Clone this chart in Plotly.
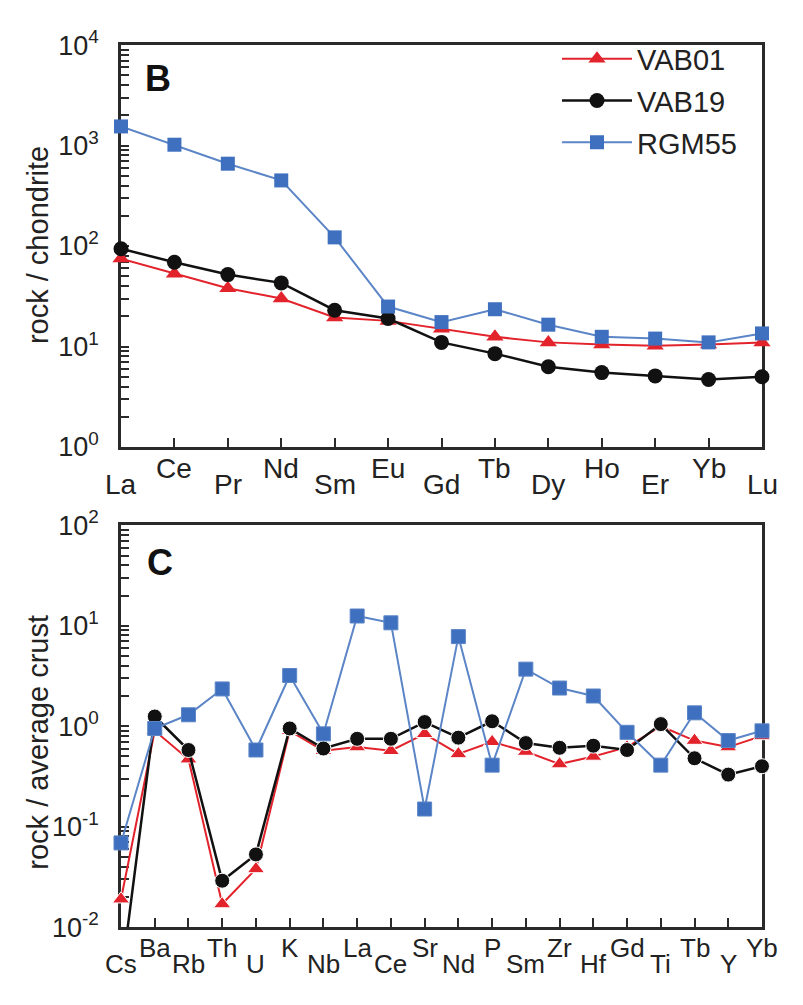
import plotly.graph_objects as go

# ---------------- data ----------------
ree = ["La", "Ce", "Pr", "Nd", "Sm", "Eu", "Gd", "Tb", "Dy", "Ho", "Er", "Yb", "Lu"]
ree_vab01 = [75, 53, 38, 30, 19.5, 18, 15, 12.5, 11, 10.5, 10.2, 10.5, 11]
ree_vab19 = [94, 69, 52, 43, 23, 19, 11, 8.5, 6.3, 5.5, 5.1, 4.7, 5.0]
ree_rgm55 = [1550, 1020, 660, 450, 122, 25, 17.5, 23.5, 16.5, 12.5, 12, 11, 13.5]

spider = ["Cs", "Ba", "Rb", "Th", "U", "K", "Nb", "La", "Ce", "Sr",
          "Nd", "P", "Sm", "Zr", "Hf", "Gd", "Ti", "Tb", "Y", "Yb"]
sp_vab01 = [0.019, 0.9, 0.47, 0.017, 0.038, 0.9, 0.57, 0.62, 0.57, 0.84,
            0.53, 0.7, 0.56, 0.42, 0.5, 0.62, 1.0, 0.72, 0.62, 0.8]
sp_vab19 = [0.003, 1.25, 0.58, 0.029, 0.053, 0.95, 0.6, 0.75, 0.75, 1.1,
            0.77, 1.12, 0.68, 0.61, 0.64, 0.58, 1.05, 0.48, 0.33, 0.4]
sp_rgm55 = [0.069, 0.95, 1.3, 2.35, 0.58, 3.2, 0.84, 12.5, 10.7, 0.15,
            7.8, 0.41, 3.7, 2.4, 2.0, 0.87, 0.41, 1.36, 0.72, 0.9]

names = ["VAB01", "VAB19", "RGM55"]

# ---------------- styles ----------------
FONT = "Arial, Liberation Sans, sans-serif"
RED = "#e3232c"
BLACK = "#111111"
BLUE_M = "#3f6fbf"
BLUE_L = "#5b85c6"
AX = "#2a2a2a"

styles = [
    dict(line=dict(color=RED, width=2), marker=dict(symbol="triangle-up", size=15, color=RED, opacity=1)),
    dict(line=dict(color=BLACK, width=2.5), marker=dict(symbol="circle", size=15, color=BLACK, opacity=1)),
    dict(line=dict(color=BLUE_L, width=2), marker=dict(symbol="square", size=14, color=BLUE_M, opacity=1)),
]

fig = go.Figure()

top_series = [ree_vab01, ree_vab19, ree_rgm55]
for nm, ys, st in zip(names, top_series, styles):
    fig.add_trace(go.Scatter(x=ree, y=ys, name=nm, mode="lines+markers",
                             line=st["line"], marker=st["marker"], cliponaxis=False,
                             legendgroup=nm, xaxis="x", yaxis="y"))

bot_series = [sp_vab01, sp_vab19, sp_rgm55]
for nm, ys, st in zip(names, bot_series, styles):
    mk = dict(st["marker"])
    # hide markers that fall outside the plotted range
    mk["size"] = [st["marker"]["size"] if v >= 0.01 else 0 for v in ys]
    mk["opacity"] = 1
    fig.add_trace(go.Scatter(x=spider, y=ys, name=nm, mode="lines+markers",
                             line=st["line"], marker=mk, cliponaxis=False,
                             showlegend=False, xaxis="x2", yaxis="y2"))

W, H = 803, 1005
def py(p):
    return 1 - p / H

xdom = [121 / W, 762 / W]

def yaxis(dom, lo, hi, anchor):
    vals, texts = [], []
    for d in range(lo, hi + 1):
        for m in range(1, 10):
            if d == hi and m > 1:
                break
            vals.append(m * 10 ** d)
            texts.append("10<sup>%d</sup>" % d if m == 1 else "")
    return dict(
        type="log", range=[lo, hi], domain=dom, anchor=anchor,
        tickmode="array", tickvals=vals, ticktext=texts,
        ticks="inside", ticklen=8, tickwidth=2.2, tickcolor=AX,
        showline=True, linewidth=2.5, linecolor=AX, mirror=True,
        showgrid=False, zeroline=False,
        tickfont=dict(family=FONT, size=27, color="#222"),
        ticklabelstandoff=14, layer="below traces",
    )

def xaxis(dom, cats, anchor):
    return dict(
        type="category", categoryorder="array", categoryarray=cats,
        range=[0, len(cats) - 1], domain=dom, anchor=anchor,
        ticks="inside", ticklen=9, tickwidth=2, tickcolor=AX,
        showticklabels=False,
        showline=True, linewidth=2.5, linecolor=AX, mirror=True,
        showgrid=False, zeroline=False, layer="below traces",
    )

fig.update_layout(
    width=W, height=H,
    margin=dict(l=0, r=0, t=0, b=0),
    paper_bgcolor="white", plot_bgcolor="white",
    font=dict(family=FONT, color="#222"),
    xaxis=xaxis(xdom, ree, "y"),
    yaxis=yaxis([py(443), py(27)], 0, 4, "x"),
    xaxis2=xaxis(xdom, spider, "y2"),
    yaxis2=yaxis([py(940), py(524)], -2, 2, "x2"),
    showlegend=True,
    legend=dict(x=557 / W, y=py(15), xanchor="left", yanchor="top",
                font=dict(family=FONT, size=29, color="#222"),
                itemwidth=70, traceorder="grouped", tracegroupgap=1,
                bgcolor="rgba(0,0,0,0)"),
)

ann = []
# staggered category labels
for i, lab in enumerate(ree):
    ann.append(dict(x=lab, y=py(465 if i % 2 else 482), xref="x", yref="paper",
                    text=lab, showarrow=False, xanchor="center", yanchor="middle",
                    font=dict(family=FONT, size=28, color="#222")))
for i, lab in enumerate(spider):
    ann.append(dict(x=lab, y=py(962 if i % 2 else 978), xref="x2", yref="paper",
                    text=lab, showarrow=False, xanchor="center", yanchor="middle",
                    font=dict(family=FONT, size=26, color="#222")))
# axis titles
ann.append(dict(x=38 / W, y=py(234), xref="paper", yref="paper", text="rock / chondrite",
                textangle=-90, showarrow=False, xanchor="center", yanchor="middle",
                font=dict(family=FONT, size=29, color="#222")))
ann.append(dict(x=38 / W, y=py(749), xref="paper", yref="paper", text="rock / average crust",
                textangle=-90, showarrow=False, xanchor="center", yanchor="middle",
                font=dict(family=FONT, size=29, color="#222")))
# panel letters
ann.append(dict(x=158 / W, y=py(62), xref="paper", yref="paper", text="<b>B</b>",
                showarrow=False, xanchor="center", yanchor="middle",
                font=dict(family=FONT, size=36, color="#111")))
ann.append(dict(x=160 / W, y=py(563), xref="paper", yref="paper", text="<b>C</b>",
                showarrow=False, xanchor="center", yanchor="middle",
                font=dict(family=FONT, size=36, color="#111")))
fig.update_layout(annotations=ann)

fig.write_html("out.html")
